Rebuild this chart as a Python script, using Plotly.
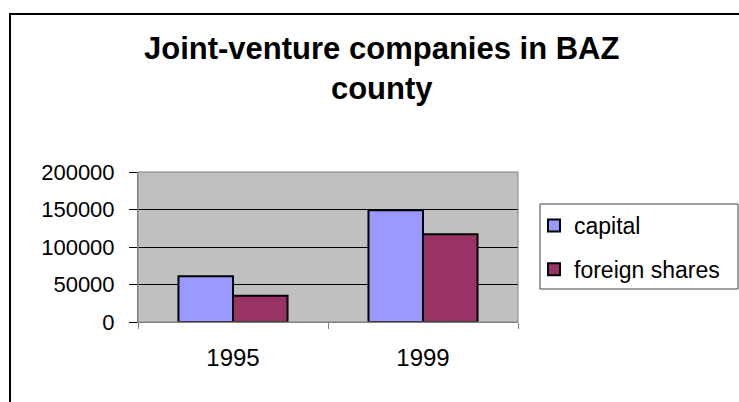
import plotly.graph_objects as go

years = ["1995", "1999"]
capital = [61000, 149000]
foreign_shares = [35000, 117000]
y_ticks = [0, 50000, 100000, 150000, 200000]
title_lines = ["Joint-venture companies in BAZ", "county"]

W, H = 739, 402
L, R, T, B = 138, 518, 172, 322  # plot area in px


def px_x(px):
    return (px - L) / (R - L)


def px_y(py):
    return (B - py) / (B - T)


fig = go.Figure()
fig.add_trace(go.Bar(x=years, y=capital, name="capital", legendgroup="a",
                     marker=dict(color="#9999FF", line=dict(color="#000000", width=2))))
fig.add_trace(go.Bar(x=years, y=foreign_shares, name="foreign shares", legendgroup="b",
                     marker=dict(color="#993366", line=dict(color="#000000", width=2))))

font_family = "Liberation Sans, Arial, sans-serif"

fig.update_layout(
    width=W, height=H,
    margin=dict(l=L, r=W - R, t=T, b=H - B, pad=0),
    paper_bgcolor="#FFFFFF",
    plot_bgcolor="#C0C0C0",
    barmode="group", bargap=0.426, bargroupgap=0,
    font=dict(family=font_family, color="#000000"),
    showlegend=True,
    legend=dict(x=px_x(534), xanchor="left", y=px_y(204), yanchor="top",
                bgcolor="rgba(0,0,0,0)", borderwidth=0,
                font=dict(size=23, family=font_family, color="#000000"),
                traceorder="grouped", tracegroupgap=11, itemwidth=30),
    xaxis=dict(type="category", showgrid=False, showline=True, linecolor="#808080", linewidth=1,
               ticks="outside", tickson="boundaries", ticklen=6, tickcolor="#808080",
               tickfont=dict(size=24), ticklabelstandoff=14, zeroline=False),
    yaxis=dict(range=[0, 200000], tickvals=y_ticks, ticktext=[str(v) for v in y_ticks],
               showgrid=True, gridcolor="#000000", gridwidth=1,
               showline=True, linecolor="#808080", linewidth=1,
               ticks="outside", ticklen=8, tickcolor="#000000",
               tickfont=dict(size=22), ticklabelstandoff=10, zeroline=False),
    annotations=[
        dict(text="<b>" + "<br>".join(title_lines) + "</b>",
             xref="paper", yref="paper", x=px_x(381), y=px_y(29),
             xanchor="center", yanchor="top", showarrow=False, align="center",
             font=dict(size=31, family=font_family, color="#000000")),
    ],
    shapes=[
        # plot-area border (top & right)
        dict(type="rect", xref="paper", yref="paper", x0=0, x1=1, y0=0, y1=1,
             line=dict(color="#808080", width=1), fillcolor="rgba(0,0,0,0)", layer="above"),
        # legend box
        dict(type="rect", xref="paper", yref="paper", x0=px_x(540), x1=px_x(738),
             y0=px_y(289), y1=px_y(204), line=dict(color="#404040", width=1),
             fillcolor="rgba(0,0,0,0)"),
        # outer chart border
        dict(type="rect", xref="paper", yref="paper", x0=px_x(10), x1=px_x(760),
             y0=px_y(420), y1=px_y(14), line=dict(color="#000000", width=2),
             fillcolor="rgba(0,0,0,0)"),
    ],
)

fig.write_html("out.html", config={"displayModeBar": False},
               post_script="document.body.style.margin='0';document.body.style.overflow='hidden';")
